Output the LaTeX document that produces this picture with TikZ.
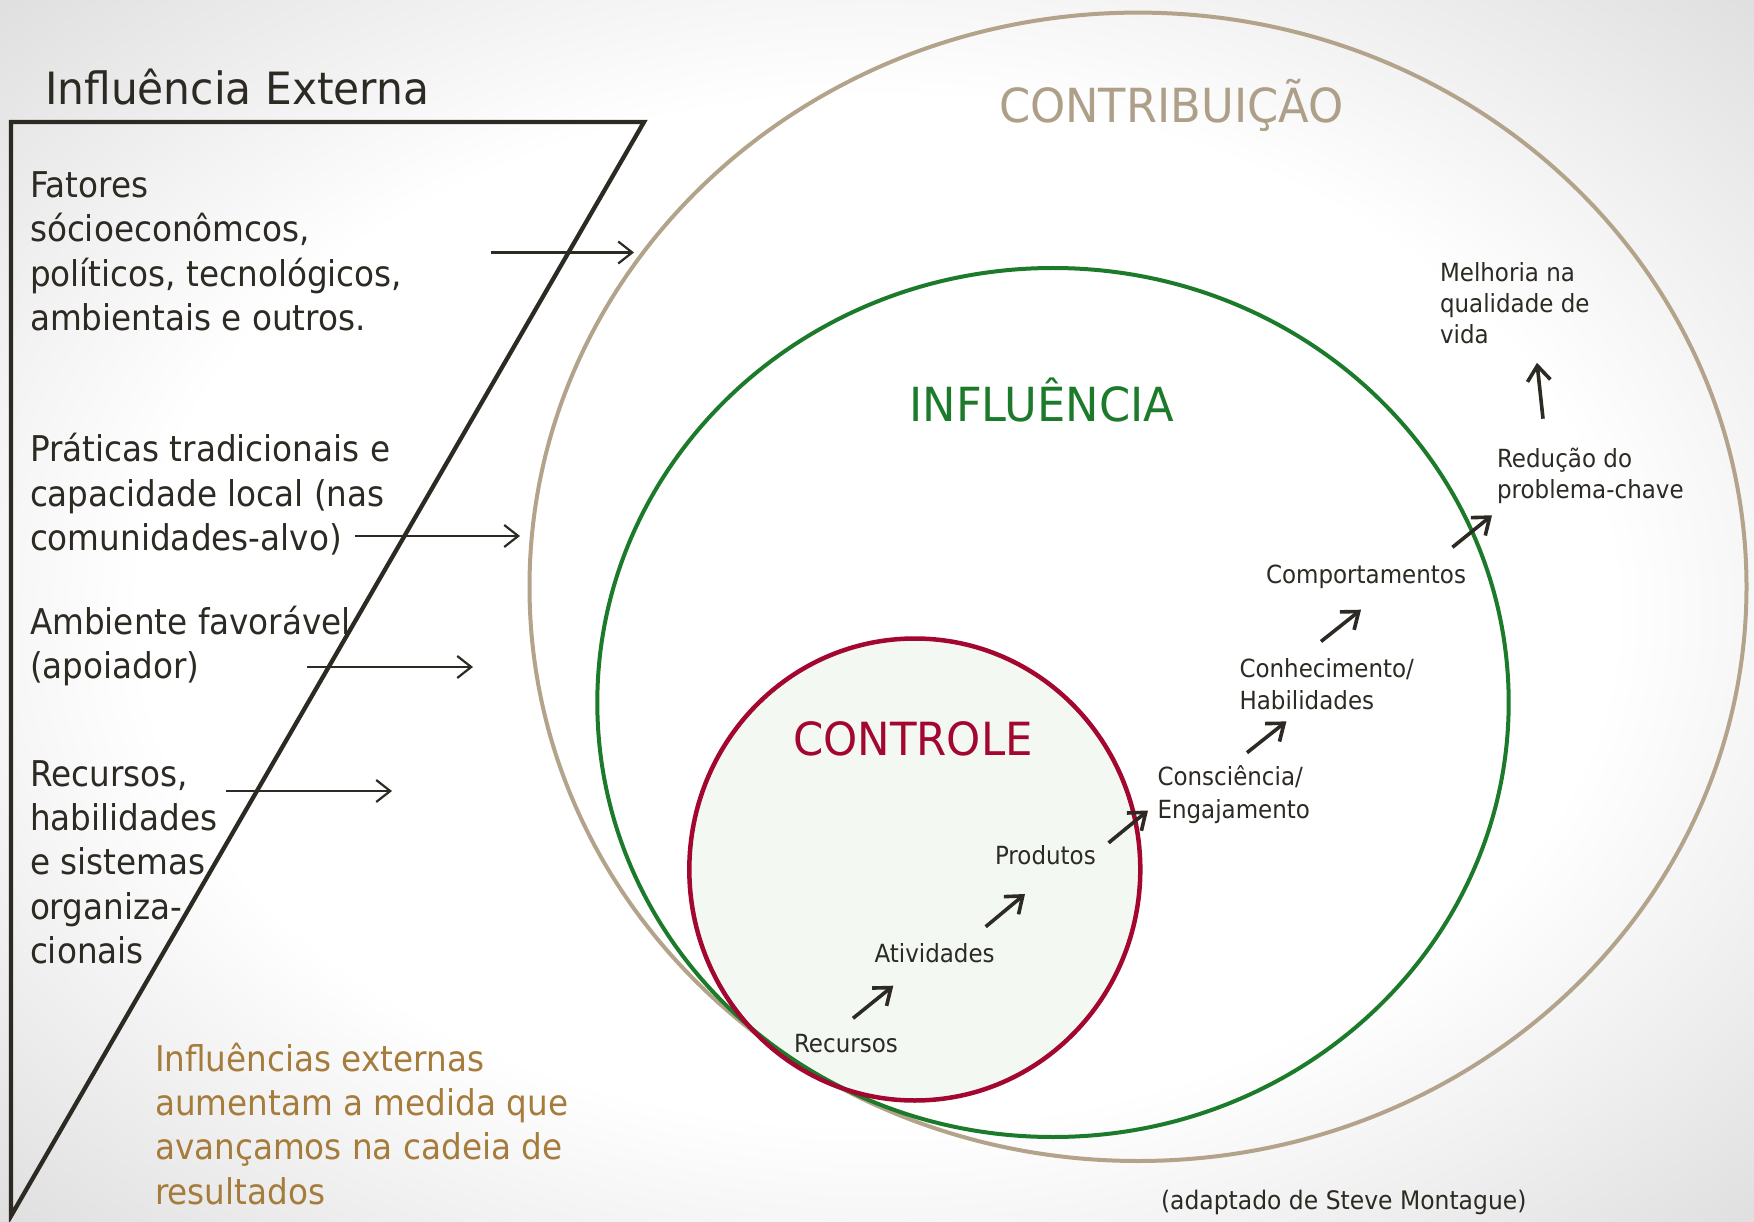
\documentclass[tikz,border=0pt]{standalone}
\usepackage{fontspec}
\setmainfont{DejaVu Sans}[FakeStretch=0.92]
\newfontfamily\headfont{DejaVu Sans}[FakeStretch=0.952]
\usetikzlibrary{arrows.meta}
\definecolor{ink}{HTML}{2D2A24}
\definecolor{tanline}{HTML}{B3A38B}
\definecolor{tantext}{HTML}{AE9F88}
\definecolor{grn}{HTML}{1C7A2B}
\definecolor{ctrl}{HTML}{A3062F}
\definecolor{mint}{HTML}{F3F8F3}
\definecolor{ochre}{HTML}{A67C3C}
\pgfdeclareradialshading{vign}{\pgfpoint{0bp}{0bp}}{color(0bp)=(white); color(21bp)=(white); color(36bp)=(black!13)}
\begin{document}
\begin{tikzpicture}[x=1pt,y=-1pt,
  lbl/.style={anchor=base west, inner sep=0pt, outer sep=0pt, text=ink},
  bigtxt/.style={lbl, font=\fontsize{35.5}{42}\selectfont},
  smalltxt/.style={lbl, font=\fontsize{25}{30}\selectfont},
  ochretxt/.style={lbl, text=ochre, font=\fontsize{35.5}{42}\selectfont},
  headtxt/.style={lbl, font=\headfont\fontsize{#1}{54}\selectfont},
  hx/.style={draw=ink, line width=2.2pt, -{Straight Barb[length=14pt,width=22pt]}},
  sx/.style={draw=ink, line width=3.6pt, -{Straight Barb[length=15pt,width=23pt]}}]
\useasboundingbox (0,0) rectangle (1754,1222);
\shade[shading=vign] (0,0) rectangle (1754,1222);

% triangle
\coordinate (tl) at (11,122);
\coordinate (tr) at (644,122);
\coordinate (bl) at (11,1216);
\draw[ink, line width=4.3pt] (tl) -- (tr) -- (bl) -- cycle;

% title
\node[headtxt=44.5] (title) at (45,105) {Influência Externa};

% left texts
\node[bigtxt] (f1) at (30,198) {Fatores};
\node[bigtxt] (f2) at (30,242) {sócioeconômcos,};
\node[bigtxt] (f3) at (30,286.5) {políticos, tecnológicos,};
\node[bigtxt] (f4) at (30,331) {ambientais e outros.};
\node[bigtxt] (p1) at (30,461) {Práticas tradicionais e};
\node[bigtxt] (p2) at (30,506) {capacidade local (nas};
\node[bigtxt] (p3) at (30,550) {comunidades-alvo)};
\node[bigtxt] (a1) at (30,634) {Ambiente favorável};
\node[bigtxt] (a2) at (30,678) {(apoiador)};
\node[bigtxt] (r1) at (30,786) {Recursos,};
\node[bigtxt] (r2) at (30,830) {habilidades};
\node[bigtxt] (r3) at (30,874.5) {e sistemas};
\node[bigtxt] (r4) at (30,919) {organiza-};
\node[bigtxt] (r5) at (30,963) {cionais};

\node[ochretxt] (o1) at (155,1071) {Influências externas};
\node[ochretxt] (o2) at (155,1115) {aumentam a medida que};
\node[ochretxt] (o3) at (155,1159) {avançamos na cadeia de};
\node[ochretxt] (o4) at (155,1204) {resultados};

% horizontal arrows
\coordinate (h1s) at (491,252.5); \coordinate (h1e) at (634,252.5);
\coordinate (h2s) at (355,536);   \coordinate (h2e) at (520,536);
\coordinate (h3s) at (307,667);   \coordinate (h3e) at (473,667);
\coordinate (h4s) at (226,791);   \coordinate (h4e) at (392,791);
\draw[hx] (h1s) -- (h1e);
\draw[hx] (h2s) -- (h2e);
\draw[hx] (h3s) -- (h3e);
\draw[hx] (h4s) -- (h4e);

% circles
\coordinate (cc) at (1138,586.8);
\coordinate (ci) at (1053,702.5);
\coordinate (ck) at (914.8,869.5);
\fill[mint] (ck) ellipse [x radius=225.5pt, y radius=231pt];
\draw[tanline, line width=4pt] (cc) ellipse [x radius=608.5pt, y radius=574.2pt];
\draw[grn, line width=4pt] (ci) ellipse [x radius=455.7pt, y radius=434.5pt];
\draw[ctrl, line width=4.5pt] (ck) ellipse [x radius=225.5pt, y radius=231pt];

% headings
\node[headtxt=47, text=tantext] (contrib) at (999,122.5) {CONTRIBUIÇÃO};
\node[headtxt=47, text=grn] (infl) at (909.5,421.7) {INFLUÊNCIA};
\node[headtxt=45.7, text=ctrl] (contr) at (793,755.5) {CONTROLE};

% chain labels
\node[smalltxt] (rec) at (794,1052.7) {Recursos};
\node[smalltxt] (ativ) at (874.5,962.7) {Atividades};
\node[smalltxt] (prod) at (995,864) {Produtos};
\node[smalltxt] (cons1) at (1157.5,785.7) {Consciência/};
\node[smalltxt] (cons2) at (1157.5,818) {Engajamento};
\node[smalltxt] (conh1) at (1239.5,677.7) {Conhecimento/};
\node[smalltxt] (conh2) at (1239.5,709.4) {Habilidades};
\node[smalltxt] (comp) at (1266,583) {Comportamentos};
\node[smalltxt] (red1) at (1497,467.7) {Redução do};
\node[smalltxt] (red2) at (1497,498.8) {problema-chave};
\node[smalltxt] (mel1) at (1440,282) {Melhoria na};
\node[smalltxt] (mel2) at (1440,313) {qualidade de};
\node[smalltxt] (mel3) at (1440,344) {vida};

\node[lbl, font=\fontsize{25.5}{30}\selectfont] (src) at (1161,1209.5) {(adaptado de Steve Montague)};

% chain arrows
\coordinate (s1a) at (853,1018.3);   \coordinate (s1b) at (893.3,985.7);
\coordinate (s2a) at (985.7,926.7);  \coordinate (s2b) at (1025,894);
\coordinate (s3a) at (1108.6,842.8); \coordinate (s3b) at (1148,810.5);
\coordinate (s4a) at (1247,752.7);   \coordinate (s4b) at (1286.4,721.4);
\coordinate (s5a) at (1321,641.5);   \coordinate (s5b) at (1361,609.7);
\coordinate (s6a) at (1452.4,547.3); \coordinate (s6b) at (1492,515.3);
\coordinate (s7a) at (1543,418.7);   \coordinate (s7b) at (1537,362.8);
\draw[sx] (s1a) -- (s1b);
\draw[sx] (s2a) -- (s2b);
\draw[sx] (s3a) -- (s3b);
\draw[sx] (s4a) -- (s4b);
\draw[sx] (s5a) -- (s5b);
\draw[sx] (s6a) -- (s6b);
\draw[sx] (s7a) -- (s7b);
\end{tikzpicture}
\end{document}
